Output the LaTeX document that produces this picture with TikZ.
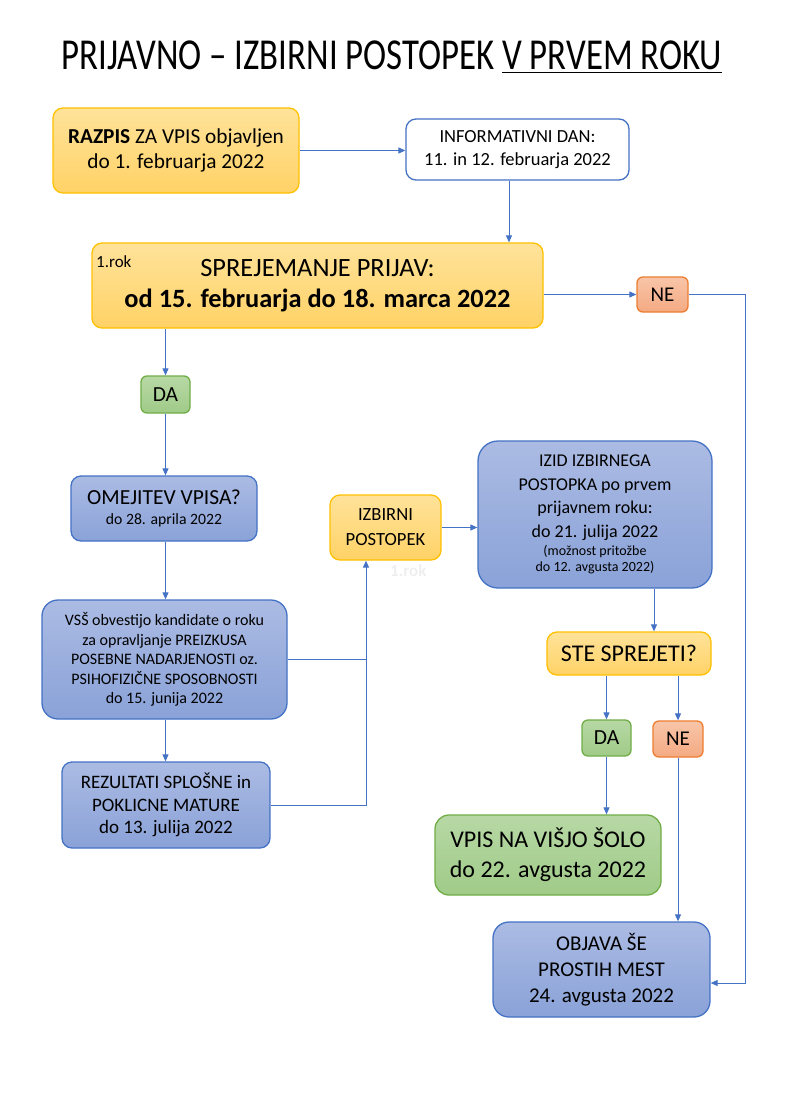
\documentclass[tikz,border=0pt]{standalone}
\usepackage{fontspec}
\setmainfont{Carlito}
\usetikzlibrary{arrows.meta, positioning}

\definecolor{linkblue}{HTML}{4472C4}
\definecolor{orangetop}{HTML}{FFE39A}
\definecolor{orangebot}{HTML}{FFD266}
\definecolor{orangeline}{HTML}{FFC000}
\definecolor{bluetop}{HTML}{ABBBE3}
\definecolor{bluebot}{HTML}{8AA2D8}
\definecolor{greentop}{HTML}{B7D8A5}
\definecolor{greenbot}{HTML}{A0CB88}
\definecolor{greenline}{HTML}{70AD47}
\definecolor{redtop}{HTML}{F8C5A8}
\definecolor{redbot}{HTML}{F4AA83}
\definecolor{redline}{HTML}{ED7D31}

\newcommand{\fs}[2]{\fontsize{#1}{#2}\selectfont}

\begin{document}
\begin{tikzpicture}[
        x=1pt, y=-1pt,
        >={Triangle[length=7pt,width=6pt]},
        box/.style={rectangle, rounded corners=10pt, line width=1.3pt, align=center, inner sep=2pt, text=black},
        orangebox/.style={box, draw=orangeline, top color=orangetop, bottom color=orangebot},
        bluebox/.style={box, draw=linkblue, top color=bluetop, bottom color=bluebot},
        greenbox/.style={box, draw=greenline, top color=greentop, bottom color=greenbot},
        redbox/.style={box, rounded corners=6pt, draw=redline, top color=redtop, bottom color=redbot},
        infobox/.style={box, draw=linkblue, fill=white},
        arrow/.style={->, line width=1pt, draw=linkblue},
        link/.style={line width=1pt, draw=linkblue}
    ]
    \useasboundingbox (0,0) rectangle (787,1116);

    % title
    \node[font=\fs{34.8}{40}] (title) at (392,57) {\scalebox{1}[1.27]{PRIJAVNO -- IZBIRNI POSTOPEK \underline{V PRVEM ROKU}}};

    % first row
    \node[orangebox, minimum width=246pt, minimum height=85pt, font=\fs{21.3}{25}] (razpis) at (176,150.5) {\textbf{RAZPIS} ZA VPIS objavljen\\do 1. februarja 2022};
    \node[infobox, minimum width=223pt, minimum height=61pt, font=\fs{18.5}{23}] (info) at (517.5,149.5) {INFORMATIVNI DAN:\\11. in 12. februarja 2022};

    \node[orangebox, minimum width=451pt, minimum height=85pt, font=\fs{26.4}{31}] (sprejem) at (317.5,285.5) {SPREJEMANJE PRIJAV:\\\textbf{od 15. februarja do 18. marca 2022}};
    \node[font=\fs{17}{20}, anchor=west, inner sep=0pt] (rok) at (96,262) {1.rok};
    \node[redbox, minimum width=51pt, minimum height=35pt, font=\fs{21}{24}] (ne1) at (662.5,294.5) {NE};

    % left column
    \node[greenbox, rounded corners=6pt, minimum width=49pt, minimum height=37pt, font=\fs{21.5}{24}] (da1) at (165.5,394.5) {DA};
    \node[bluebox, minimum width=186pt, minimum height=65pt, font=\fs{21.5}{25}] (omejitev) at (164,508.5) {OMEJITEV VPISA?\\[-5pt]\fs{15.7}{18}do 28. aprila 2022};
    \node[bluebox, rounded corners=16pt, minimum width=245pt, minimum height=119pt, font=\fs{16}{19.5}] (vss) at (164.5,659.5) {VSŠ obvestijo kandidate o roku\\za opravljanje PREIZKUSA\\POSEBNE NADARJENOSTI oz.\\PSIHOFIZIČNE SPOSOBNOSTI\\do 15. junija 2022};
    \node[bluebox, minimum width=208pt, minimum height=86pt, font=\fs{19}{22.5}] (rezultati) at (166,805) {REZULTATI SPLOŠNE in\\POKLICNE MATURE\\do 13. julija 2022};

    % middle and right column
    \node[orangebox, minimum width=111pt, minimum height=65pt, font=\fs{18.6}{25}] (izbirni) at (385.5,527.5) {IZBIRNI\\POSTOPEK};
    \node[font=\fs{17}{20}\bfseries, text=gray!13, anchor=west, inner sep=0pt] (rok2) at (390,571) {1.rok};
    \node[bluebox, rounded corners=20pt, minimum width=234pt, minimum height=147pt, font=\fs{18}{23.5}] (izid) at (595,514.5) {IZID IZBIRNEGA\\POSTOPKA po prvem\\prijavnem roku:\\do 21. julija 2022\\[-5.5pt]\fs{14}{16}(možnost pritožbe\\[-7.5pt]\fs{14}{16}do 12. avgusta 2022)};
    \node[orangebox, minimum width=164pt, minimum height=43pt, font=\fs{24}{27}] (ste) at (629,653.5) {STE SPREJETI?};
    \node[greenbox, rounded corners=6pt, minimum width=49pt, minimum height=36pt, font=\fs{21.5}{24}] (da2) at (606.5,738) {DA};
    \node[redbox, minimum width=50pt, minimum height=36pt, font=\fs{21}{24}] (ne2) at (678,739) {NE};
    \node[greenbox, rounded corners=14pt, minimum width=226pt, minimum height=80pt, font=\fs{24}{30}] (vpis) at (548,855) {VPIS NA VIŠJO ŠOLO\\do 22. avgusta 2022};
    \node[bluebox, rounded corners=16pt, minimum width=217pt, minimum height=95pt, font=\fs{21}{26}] (objava) at (601.5,969.5) {OBJAVA ŠE\\PROSTIH MEST\\24. avgusta 2022};

    \coordinate (lbus) at (366,0);
    \coordinate (rbus) at (745,0);

    \draw[arrow] (razpis.east) -- (razpis.east -| info.west);
    \draw[arrow] ([xshift=-8.5pt]info.south) -- ([xshift=-8.5pt]info.south |- sprejem.north);
    \draw[arrow] (ne1.west -| sprejem.east) -- (ne1.west);
    \draw[arrow] (ne1.east) -- (ne1.east -| rbus) |- ([yshift=-13.5pt]objava.east);
    \draw[arrow] (da1.north |- sprejem.south) -- (da1.north);
    \draw[arrow] (da1.south) -- (da1.south |- omejitev.north);
    \draw[arrow] (da1.south |- omejitev.south) -- (da1.south |- vss.north);
    \draw[arrow] (da1.south |- vss.south) -- (da1.south |- rezultati.north);
    \draw[link] (vss.east) -- (vss.east -| lbus);
    \draw[arrow] (rezultati.east) -- (rezultati.east -| lbus) -- (lbus |- izbirni.south);
    \draw[arrow] (izbirni.east) -- (izbirni.east -| izid.west);
    \draw[arrow] ([xshift=59pt]izid.south) -- ([xshift=25pt]ste.north);
    \draw[arrow] (da2.north |- ste.south) -- (da2.north);
    \draw[arrow] (ne2.north |- ste.south) -- (ne2.north);
    \draw[arrow] (da2.south) -- (da2.south |- vpis.north);
    \draw[arrow] (ne2.south) -- (ne2.south |- objava.north);

\end{tikzpicture}
\end{document}
